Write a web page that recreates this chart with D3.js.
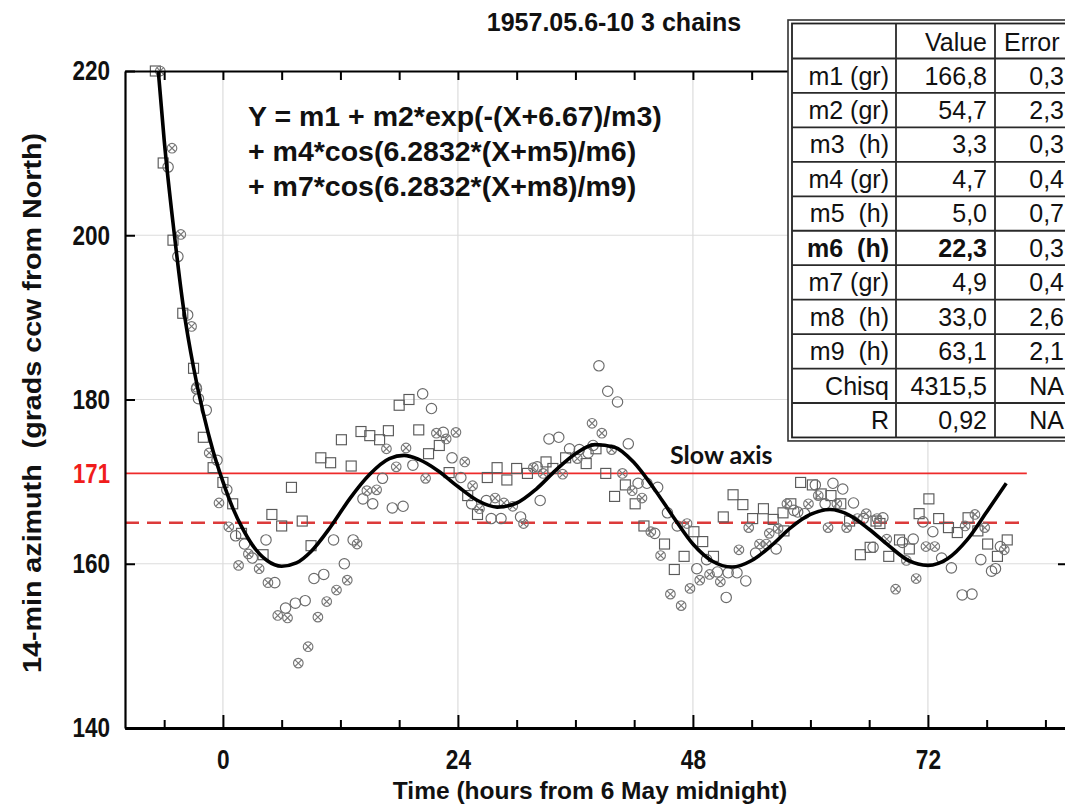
<!DOCTYPE html>
<html>
<head>
<meta charset="utf-8">
<script src="https://cdn.jsdelivr.net/npm/d3@7"></script>
<style>
    body { margin: 0; background: #fff; }
    svg text { font-family: "Liberation Sans", Arial, sans-serif; }
</style>
</head>
<body>
<div id="chart"></div>
<script>
    // tick values
    const yTicks = [140, 160, 180, 200, 220];
    const yGrid = [160, 180, 200];
    const xTicks = [0, 24, 48, 72];
    const xMinorTicks = [-6, 6, 12, 18, 30, 36, 42, 54, 60, 66, 78, 84];
    const xAllTicks = [-6, 0, 6, 12, 18, 24, 30, 36, 42, 48, 54, 60, 66, 72, 78, 84];

    // reference levels
    const slowAxis = 171;
    const meanLevel = 165;

    // chain 1 (squares): [hours, grads]
    const chainSquares = [
        [-6.9, 220], [-6.1, 208.8], [-5.1, 199.4], [-4.1, 190.5], [-3.0, 183.8], [-2.0, 175.4],
        [-1.0, 171.7], [0, 169.9], [1.0, 167.3], [1.9, 163.7], [4.1, 161.1], [5.0, 166.0],
        [6.0, 164.6], [7.0, 169.3], [8.1, 165.2], [9.0, 162.2], [10.0, 172.9], [11.0, 172.3],
        [12.1, 175.1], [13.1, 171.9], [14.1, 176.1], [15.0, 175.6], [16.0, 175.1], [16.9, 176.2],
        [18.0, 179.3], [19.0, 180.0], [20.0, 176.3], [21.0, 173.4], [22.1, 174.4], [23.1, 171.1],
        [25.0, 168.3], [26.0, 166.0], [27.0, 170.5], [28.0, 171.7], [29.0, 170.2], [30.0, 171.6],
        [31.1, 171.0], [33.0, 172.4], [33.7, 171.6], [35.0, 172.9], [37.1, 172.2], [38.1, 174.0],
        [39.1, 171.0], [40.0, 168.2], [41.1, 169.6], [42.1, 167.3], [43.0, 164.6], [45.1, 162.4],
        [46.1, 159.3], [47.1, 160.9], [48.1, 163.9], [49.0, 162.7], [50.1, 160.9], [51.1, 165.7],
        [52.1, 168.4], [53.1, 167.2], [54.1, 165.5], [55.2, 166.7], [56.2, 165.4], [57.2, 166.2],
        [57.3, 164.0], [58.0, 167.3], [59.0, 169.9], [60.2, 169.6], [61.1, 168.5], [62.1, 168.3],
        [63.1, 167.3], [64.0, 165.2], [65.1, 161.1], [66.1, 162.0], [66.7, 165.2], [67.1, 164.9],
        [68.0, 160.9], [69.1, 162.9], [70.1, 161.8], [71.1, 166.1], [72.1, 167.9], [73.1, 165.5],
        [74.1, 164.4], [75.0, 163.8], [76.1, 165.6], [77.1, 164.0], [78.1, 162.4], [79.1, 160.9],
        [80.1, 162.9]
    ];

    // chain 2 (circles)
    const chainCircles = [
        [-5.6, 208.3], [-4.6, 197.4], [-3.6, 190.3], [-2.7, 181.3], [-2.5, 180.1], [-1.7, 178.7],
        [-0.6, 172.6], [0.4, 169.0], [1.3, 163.4], [2.2, 162.4], [3.0, 160.7], [4.4, 162.9],
        [5.3, 157.7], [6.4, 154.6], [7.4, 155.2], [8.4, 155.5], [9.3, 158.2], [10.3, 158.7],
        [11.3, 162.9], [12.4, 160.0], [13.3, 162.9], [14.3, 167.9], [15.3, 167.3], [16.3, 170.4],
        [17.3, 166.8], [18.4, 167.0], [19.4, 172.0], [20.4, 180.7], [21.3, 178.9], [22.5, 176.0],
        [23.4, 172.9], [24.3, 170.5], [25.4, 167.3], [26.9, 167.7], [27.4, 165.5], [28.4, 165.5],
        [30.4, 165.7], [32.1, 171.8], [32.4, 167.7], [33.3, 175.2], [34.3, 175.4], [35.4, 174.0],
        [36.4, 173.9], [37.3, 173.5], [37.8, 174.4], [38.4, 184.1], [39.3, 181.0], [40.3, 179.7],
        [41.4, 174.6], [42.4, 169.8], [43.3, 169.8], [44.1, 163.7], [44.4, 169.3], [45.4, 166.2],
        [46.4, 164.6], [48.4, 159.4], [49.4, 160.5], [50.5, 159.0], [51.4, 155.9], [51.6, 158.9],
        [52.5, 158.9], [53.4, 157.9], [54.4, 161.3], [56.5, 161.8], [58.3, 166.5], [58.7, 166.3],
        [59.4, 166.1], [60.5, 169.6], [61.5, 167.3], [62.3, 169.8], [63.3, 169.1], [64.4, 167.4],
        [65.4, 165.5], [66.4, 162.0], [67.4, 165.6], [69.4, 162.6], [70.5, 163.0], [71.5, 165.1],
        [72.5, 163.9], [73.4, 160.7], [74.4, 159.5], [75.5, 156.2], [76.5, 156.3], [77.4, 160.5],
        [78.5, 159.1], [78.9, 159.4], [79.4, 162.1]
    ];

    // chain 3 (crossed circles)
    const chainCrossed = [
        [-6.4, 220], [-5.2, 210.6], [-4.3, 200.1], [-3.2, 188.9], [-2.7, 181.5], [-1.4, 173.5],
        [-0.4, 167.4], [0.6, 164.5], [1.6, 159.8], [2.6, 161.2], [3.7, 159.4], [4.6, 157.7],
        [5.6, 153.7], [6.6, 153.4], [7.7, 147.9], [8.7, 149.9], [9.7, 153.5], [10.6, 155.4],
        [11.6, 156.8], [12.7, 158.0], [13.7, 162.4], [14.7, 168.9], [15.7, 169.0], [16.7, 174.0],
        [17.7, 171.8], [18.7, 174.1], [20.7, 170.4], [21.8, 175.9], [22.8, 175.2], [23.8, 176.0],
        [24.7, 172.4], [25.5, 169.5], [26.2, 166.7], [27.8, 168.0], [28.7, 167.4], [29.6, 167.0],
        [30.7, 164.9], [31.7, 171.7], [32.7, 171.0], [34.7, 170.9], [36.2, 172.8], [37.7, 177.1],
        [38.7, 175.9], [39.7, 173.9], [40.8, 171.0], [41.8, 168.9], [42.8, 168.0], [43.7, 163.9],
        [44.7, 161.0], [45.7, 156.3], [46.8, 154.9], [47.4, 164.9], [47.7, 157.0], [48.7, 158.0],
        [49.7, 158.7], [50.8, 157.8], [52.7, 161.7], [53.7, 164.4], [54.8, 162.4], [55.5, 162.4],
        [55.8, 163.7], [56.7, 164.3], [57.6, 167.3], [59.8, 167.3], [60.8, 168.3], [61.8, 164.4],
        [62.7, 167.3], [63.7, 164.4], [64.8, 165.5], [65.7, 166.1], [66.8, 165.5], [67.8, 163.0],
        [68.7, 156.9], [69.8, 160.4], [70.8, 158.2], [71.8, 162.1], [72.7, 162.1], [75.8, 164.6],
        [76.8, 166.0], [77.8, 164.4], [79.8, 161.7]
    ];

    // fitted curve
    const fitX = [-6.6, -6, -5, -4, -3, -2, -1, 0, 1, 2, 3, 4.5, 6, 7.5, 9, 11, 13, 15, 17, 18.5,
        20, 22, 24, 26, 28, 30, 32, 34, 36, 38, 40, 42, 44, 46, 48, 50, 52, 54, 56, 58, 60, 62,
        64, 66, 68, 70, 72, 74, 76, 78, 80];
    const fitY = [220, 211.6, 200.5, 190.9, 183.9, 178.3, 173.7, 170.0, 166.8, 164.3, 162.3, 160.4,
        159.7, 160.1, 161.5, 164.5, 168.0, 170.9, 172.8, 173.2, 172.7, 171.3, 169.4, 167.7, 166.9,
        167.4, 169.1, 171.4, 173.4, 174.5, 174.2, 172.3, 169.2, 165.7, 162.4, 160.3, 159.6, 160.4,
        162.2, 164.4, 166.0, 166.6, 165.9, 164.2, 162.2, 160.4, 159.8, 160.6, 162.9, 166.3, 169.8];

    // fit table
    const paramNames = ["m1 (gr)", "m2 (gr)", "m3  (h)", "m4 (gr)", "m5  (h)", "m6  (h)",
        "m7 (gr)", "m8  (h)", "m9  (h)", "Chisq", "R"];
    const paramValues = ["166,8", "54,7", "3,3", "4,7", "5,0", "22,3", "4,9", "33,0", "63,1", "4315,5", "0,92"];
    const paramErrors = ["0,3", "2,3", "0,3", "0,4", "0,7", "0,3", "0,4", "2,6", "2,1", "NA", "NA"];
    const boldRow = "m6  (h)";

    const equation = [
        "Y = m1 + m2*exp(-(X+6.67)/m3)",
        "+ m4*cos(6.2832*(X+m5)/m6)",
        "+ m7*cos(6.2832*(X+m8)/m9)"
    ];

    let width = 1065, height = 805;

    let svg = d3.select("#chart")
        .append("svg")
        .attr("width", width)
        .attr("height", height);

    let x = d3.scaleLinear()
        .domain([-10, 86])
        .range([125, 1065]);

    let y = d3.scaleLinear()
        .domain([140, 220])
        .range([728, 71]);

    // grid
    svg.append("g")
        .selectAll("line")
        .data(yGrid)
        .join("line")
        .attr("x1", x(-10)).attr("x2", x(86))
        .attr("y1", d => y(d)).attr("y2", d => y(d))
        .attr("stroke", "#dcdcdc")
        .attr("stroke-width", 1.2);

    svg.append("g")
        .selectAll("line")
        .data(xTicks)
        .join("line")
        .attr("x1", d => x(d)).attr("x2", d => x(d))
        .attr("y1", y(220)).attr("y2", y(140))
        .attr("stroke", "#dcdcdc")
        .attr("stroke-width", 1.2);

    // slow axis and mean level
    svg.append("line")
        .attr("x1", x(-10)).attr("x2", x(82.1))
        .attr("y1", y(slowAxis)).attr("y2", y(slowAxis))
        .attr("stroke", "#ee2b2b")
        .attr("stroke-width", 1.6);

    svg.append("line")
        .attr("x1", x(-10)).attr("x2", x(81.4))
        .attr("y1", y(meanLevel)).attr("y2", y(meanLevel))
        .attr("stroke", "#dc3a3a")
        .attr("stroke-width", 2.6)
        .attr("stroke-dasharray", "14,8");

    // scatter
    let marks = svg.append("g")
        .attr("fill", "none")
        .attr("stroke-width", 1.15);

    marks.selectAll(".sq")
        .data(chainSquares)
        .join("rect")
        .attr("class", "sq")
        .attr("x", d => x(d[0]) - 5)
        .attr("y", d => y(d[1]) - 5)
        .attr("width", 10)
        .attr("height", 10)
        .attr("stroke", "#5a5a5a");

    marks.selectAll(".ci")
        .data(chainCircles)
        .join("circle")
        .attr("class", "ci")
        .attr("cx", d => x(d[0]))
        .attr("cy", d => y(d[1]))
        .attr("r", 5.2)
        .attr("stroke", "#6a6a6a");

    let crossed = marks.selectAll(".cx")
        .data(chainCrossed)
        .join("g")
        .attr("class", "cx")
        .attr("transform", d => `translate(${x(d[0])},${y(d[1])})`)
        .attr("stroke", "#777");

    crossed.append("circle").attr("r", 4.8);
    crossed.append("path").attr("d", "M-3.3,-3.3L3.3,3.3M-3.3,3.3L3.3,-3.3");

    // fitted curve
    let line = d3.line()
        .x((d, i) => x(fitX[i]))
        .y(d => y(d))
        .curve(d3.curveMonotoneX);

    svg.append("path")
        .datum(fitY)
        .attr("d", line)
        .attr("fill", "none")
        .attr("stroke", "#000")
        .attr("stroke-width", 3.6)
        .attr("stroke-linejoin", "round");

    // axes
    function styleAxis(g, w) {
        g.select(".domain").attr("stroke", "#000").attr("stroke-width", w);
        g.selectAll(".tick line").attr("stroke", "#000").attr("stroke-width", 2);
    }

    let yAxis = svg.append("g")
        .attr("transform", `translate(${x(-10)},0)`)
        .call(d3.axisLeft(y).tickValues(yTicks).tickSize(-10).tickSizeOuter(0).tickPadding(15))
        .call(g => styleAxis(g, 2.2));

    yAxis.selectAll("text")
        .attr("x", -15 / 0.82)
        .attr("transform", "scale(0.82,1)")
        .style("font-size", "27.5px")
        .style("font-weight", "bold")
        .attr("fill", "#111");

    svg.append("g")
        .attr("transform", `translate(${x(86.2)},0)`)
        .call(d3.axisRight(y).tickValues(yTicks).tickSize(-9).tickSizeOuter(0).tickFormat(""))
        .call(g => styleAxis(g, 2));

    svg.append("g")
        .attr("transform", `translate(0,${y(220)})`)
        .call(d3.axisTop(x).tickValues(xAllTicks).tickSize(-9).tickSizeOuter(0).tickFormat(""))
        .call(g => styleAxis(g, 2.2));

    svg.append("g")
        .attr("transform", `translate(0,${y(140)})`)
        .call(d3.axisBottom(x).tickValues(xMinorTicks).tickSize(-8).tickSizeOuter(0).tickFormat(""))
        .call(g => styleAxis(g, 3));

    let xAxis = svg.append("g")
        .attr("transform", `translate(0,${y(140)})`)
        .call(d3.axisBottom(x).tickValues(xTicks).tickSize(-13).tickSizeOuter(0).tickPadding(21))
        .call(g => styleAxis(g, 3));

    xAxis.selectAll(".tick text")
        .attr("textLength", d => String(d).length * 12.6)
        .attr("lengthAdjust", "spacingAndGlyphs")
        .style("font-size", "27.5px")
        .style("font-weight", "bold")
        .attr("fill", "#111");

    // slow axis label on the y axis
    svg.append("text")
        .attr("x", 110)
        .attr("y", y(slowAxis))
        .attr("dy", "0.36em")
        .attr("text-anchor", "end")
        .attr("textLength", 37)
        .attr("lengthAdjust", "spacingAndGlyphs")
        .style("font-size", "27.5px")
        .style("font-weight", "bold")
        .attr("fill", "#f01c1c")
        .text(slowAxis);

    svg.append("text")
        .attr("x", 670)
        .attr("y", 464)
        .style("font-family", "Lato, 'Open Sans', sans-serif")
        .style("font-size", "25px")
        .style("font-weight", "bold")
        .attr("fill", "#111")
        .text("Slow axis");

    // equation
    svg.append("g")
        .selectAll("text")
        .data(equation)
        .join("text")
        .attr("x", 248)
        .attr("y", (d, i) => 125.5 + i * 35)
        .style("font-size", "28.5px")
        .style("font-weight", "bold")
        .attr("fill", "#111")
        .text(d => d);

    // titles
    svg.append("text")
        .attr("x", 614)
        .attr("y", 31)
        .attr("text-anchor", "middle")
        .style("font-size", "25px")
        .style("font-weight", "bold")
        .attr("fill", "#111")
        .text("1957.05.6-10 3 chains");

    svg.append("text")
        .attr("x", 590)
        .attr("y", 799)
        .attr("text-anchor", "middle")
        .style("font-size", "24.5px")
        .style("font-weight", "bold")
        .attr("fill", "#111")
        .text("Time (hours from 6 May midnight)");

    svg.append("text")
        .attr("transform", "translate(41,403) rotate(-90)")
        .attr("text-anchor", "middle")
        .attr("textLength", 540)
        .attr("lengthAdjust", "spacingAndGlyphs")
        .style("font-size", "26px")
        .style("font-weight", "bold")
        .style("white-space", "pre")
        .attr("fill", "#111")
        .text("14-min azimuth  (grads ccw from North)");

    // fit table
    let tLeft = 792, tTop = 23.5, tRight = 1078;
    let headH = 35, rowH = 34.45;
    let colX = [tLeft, 896, 995, tRight];
    let tBottom = tTop + headH + rowH * paramNames.length;

    let table = svg.append("g");

    table.append("rect")
        .attr("x", tLeft - 4).attr("y", tTop - 3.5)
        .attr("width", tRight - tLeft + 8).attr("height", tBottom - tTop + 7)
        .attr("fill", "#fff")
        .attr("stroke", "#333")
        .attr("stroke-width", 1.6);

    table.append("rect")
        .attr("x", tLeft).attr("y", tTop)
        .attr("width", tRight - tLeft).attr("height", tBottom - tTop)
        .attr("fill", "none")
        .attr("stroke", "#222")
        .attr("stroke-width", 1.8);

    table.selectAll(".rowline")
        .data(paramNames)
        .join("line")
        .attr("class", "rowline")
        .attr("x1", tLeft).attr("x2", tRight)
        .attr("y1", (d, i) => tTop + headH + i * rowH)
        .attr("y2", (d, i) => tTop + headH + i * rowH)
        .attr("stroke", "#2a2a2a")
        .attr("stroke-width", 1.8);

    table.selectAll(".colline")
        .data(colX.slice(1, 3))
        .join("line")
        .attr("class", "colline")
        .attr("x1", d => d).attr("x2", d => d)
        .attr("y1", tTop).attr("y2", tBottom)
        .attr("stroke", "#2a2a2a")
        .attr("stroke-width", 1.8);

    let cellFont = "25px";

    table.append("text")
        .attr("x", colX[2] - 8).attr("y", tTop + 27)
        .attr("text-anchor", "end")
        .style("font-size", cellFont)
        .attr("fill", "#111")
        .text("Value");

    table.append("text")
        .attr("x", colX[2] + 9).attr("y", tTop + 27)
        .style("font-size", cellFont)
        .attr("fill", "#111")
        .text("Error");

    let rows = table.selectAll(".row")
        .data(paramNames)
        .join("g")
        .attr("class", "row")
        .attr("transform", (d, i) => `translate(0,${tTop + headH + i * rowH + 26})`)
        .style("font-size", cellFont)
        .style("font-weight", d => d === boldRow ? "bold" : "normal")
        .attr("fill", "#111");

    rows.append("text")
        .attr("x", colX[1] - 7)
        .attr("text-anchor", "end")
        .style("white-space", "pre")
        .text(d => d);

    rows.append("text")
        .attr("x", colX[2] - 8)
        .attr("text-anchor", "end")
        .text((d, i) => paramValues[i]);

    rows.append("text")
        .attr("x", 1064)
        .attr("text-anchor", "end")
        .style("font-weight", "normal")
        .text((d, i) => paramErrors[i]);
</script>
</body>
</html>
